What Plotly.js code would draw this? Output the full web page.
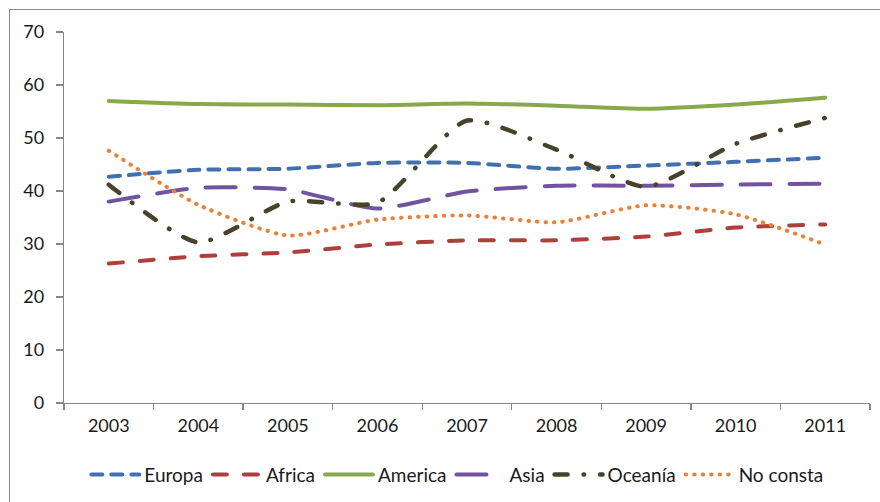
<!DOCTYPE html>
<html>
<head>
<meta charset="utf-8">
<script src="https://cdn.plot.ly/plotly-3.0.1.min.js"></script>
<style>
  html, body { margin: 0; padding: 0; background: #fff; }
  #wrap { position: relative; width: 880px; height: 502px; overflow: hidden; }
  #chart { position: absolute; left: 0; top: 0; width: 880px; height: 502px; }
  #frame { position: absolute; left: 9px; top: 9px; width: 1000px; height: 1000px;
           border-left: 1.5px solid #8c8c8c; border-top: 1.5px solid #8c8c8c; pointer-events: none; }
  path.js-line { stroke-linecap: round; }
</style>
</head>
<body>
<div id="wrap">
  <div id="chart"></div>
  <div id="frame"></div>
</div>
<script>
const years = ['2003','2004','2005','2006','2007','2008','2009','2010','2011'];
const europa   = [42.7, 44.0, 44.2, 45.3, 45.3, 44.2, 44.8, 45.5, 46.3];
const africa   = [26.3, 27.7, 28.4, 29.9, 30.7, 30.7, 31.4, 33.1, 33.7];
const america  = [57.0, 56.4, 56.3, 56.2, 56.5, 56.1, 55.5, 56.3, 57.6];
const asia     = [38.0, 40.6, 40.3, 36.7, 39.9, 41.0, 41.0, 41.2, 41.4];
const oceania  = [41.2, 30.3, 38.0, 37.8, 53.3, 47.8, 40.8, 48.9, 53.8];
const noconsta = [47.6, 37.4, 31.6, 34.6, 35.4, 34.1, 37.3, 35.6, 29.9];
const yTicks = [0, 10, 20, 30, 40, 50, 60, 70];

function tr(name, y, color, dash, width) {
  return {
    type: 'scatter', mode: 'lines', name: name, x: years, y: y,
    line: { color: color, width: width || 4, dash: dash, shape: 'spline', smoothing: 0.6 },
    hoverinfo: 'skip'
  };
}

const data = [
  tr('Europa', europa, '#4170B0', '11px,9px'),
  tr('Africa', africa, '#AE3F3B', '14px,17px'),
  tr('America', america, '#87A84B', 'solid'),
  tr('Asia', asia, '#7153A0', '30px,19px'),
  tr('Oceanía', oceania, '#46432A', '13px,16px,0.5px,16px', 4.5),
  tr('No consta', noconsta, '#E8823A', '0.5px,8px')
];

const tickFont = { family: 'Lato, "Noto Sans", sans-serif', size: 18, color: '#1a1a1a' };

const layout = {
  width: 880, height: 502,
  margin: { l: 64, r: 10, t: 32, b: 98, pad: 0 },
  paper_bgcolor: '#fff', plot_bgcolor: '#fff',
  showlegend: true,
  legend: {
    orientation: 'h', x: 0.488, xanchor: 'center', y: -0.19, yanchor: 'middle',
    font: { family: 'Lato, "Noto Sans", sans-serif', size: 19, color: '#1a1a1a' },
    itemwidth: 48, tracegroupgap: 0, bgcolor: 'rgba(0,0,0,0)'
  },
  xaxis: {
    type: 'category', categoryorder: 'array', categoryarray: years,
    range: [-0.5, 8.5], showgrid: false, zeroline: false,
    showline: true, linecolor: '#868686', linewidth: 1.3,
    ticks: 'outside', tickson: 'boundaries', ticklen: 6, tickcolor: '#868686', tickwidth: 1.3,
    tickfont: tickFont, ticklabelstandoff: 6, fixedrange: true
  },
  yaxis: {
    range: [0, 70], tickvals: yTicks, ticktext: yTicks.map(String),
    showgrid: false, zeroline: false,
    showline: true, linecolor: '#868686', linewidth: 1.3,
    ticks: 'outside', ticklen: 7, tickcolor: '#868686', tickwidth: 1.3,
    tickfont: tickFont, ticklabelstandoff: 8, fixedrange: true
  }
};

Plotly.newPlot('chart', data, layout, { staticPlot: true, displayModeBar: false });
</script>
</body>
</html>
